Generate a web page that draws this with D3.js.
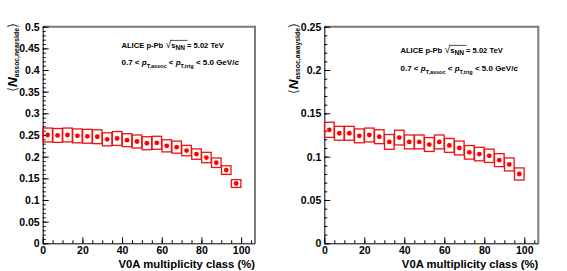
<!DOCTYPE html>
<html>
<head>
<meta charset="utf-8">
<script src="https://cdn.jsdelivr.net/npm/d3@7"></script>
<style>
	body { margin: 0; background: #fff; }
	svg { display: block; font-family: 'Liberation Sans', Arial, sans-serif; }
</style>
</head>
<body>
<div id="chart-area"></div>
<script>
// V0A multiplicity class bin centres (%)
let binCenters = [2.5, 7.5, 12.5, 17.5, 22.5, 27.5, 32.5, 37.5, 42.5, 47.5, 52.5, 57.5, 62.5, 67.5, 72.5, 77.5, 82.5, 87.5, 92.5, 97.5]
let binHalfWidth = 2.4

let nearValues = [0.250, 0.249, 0.250, 0.248, 0.247, 0.246, 0.240, 0.242, 0.238, 0.235, 0.231, 0.232, 0.225, 0.222, 0.214, 0.206, 0.198, 0.186, 0.169, 0.138]
let nearSyst = [0.016, 0.016, 0.016, 0.016, 0.016, 0.016, 0.015, 0.016, 0.015, 0.015, 0.015, 0.015, 0.014, 0.014, 0.012, 0.012, 0.012, 0.011, 0.010, 0.009]

let awayValues = [0.131, 0.127, 0.127, 0.124, 0.125, 0.123, 0.117, 0.122, 0.117, 0.117, 0.114, 0.117, 0.113, 0.110, 0.105, 0.103, 0.101, 0.096, 0.091, 0.080]
let awaySyst = [0.0087, 0.008, 0.008, 0.008, 0.008, 0.008, 0.0085, 0.0085, 0.008, 0.008, 0.008, 0.008, 0.008, 0.008, 0.0078, 0.0078, 0.0077, 0.0075, 0.0075, 0.007]

let xTicks = [0, 20, 40, 60, 80, 100]
let nearYTicks = [0, 0.05, 0.1, 0.15, 0.2, 0.25, 0.3, 0.35, 0.4, 0.45, 0.5]
let awayYTicks = [0, 0.05, 0.1, 0.15, 0.2, 0.25]

let xTitle = 'V0A multiplicity class (%)'

let svg = d3.select('#chart-area').append('svg')
	.attr('width', 567)
	.attr('height', 271)

let panels = [
	{ left: 42.7, right: 255, top: 26.7, bottom: 243.3, yMax: 0.5, yTicks: nearYTicks, values: nearValues, syst: nearSyst, sub: 'assoc,nearside', titleX: 16.5, noteX: 121.5, noteY1: 48, noteY2: 65 },
	{ left: 324.3, right: 538.3, top: 26.7, bottom: 243.3, yMax: 0.25, yTicks: awayYTicks, values: awayValues, syst: awaySyst, sub: 'assoc,awayside', titleX: 297.5, noteX: 400.5, noteY1: 53, noteY2: 70.5 }
]

const formatTick = (d) => { return d === 0 ? '0' : String(+d.toFixed(2)) }

panels.forEach((p) => {
	let g = svg.append('g')

	let x = d3.scaleLinear()
		.domain([0, 107])
		.range([p.left, p.right])

	let y = d3.scaleLinear()
		.domain([0, p.yMax])
		.range([p.bottom, p.top])

	// frame: top and right edges grey
	g.append('line')
		.attr('x1', p.left).attr('x2', p.right)
		.attr('y1', p.top).attr('y2', p.top)
		.attr('stroke', '#7a7a7a').attr('stroke-width', 2)
	g.append('line')
		.attr('x1', p.right).attr('x2', p.right)
		.attr('y1', p.top - 1).attr('y2', p.bottom)
		.attr('stroke', '#7a7a7a').attr('stroke-width', 2)

	// minor ticks
	let yMinor = d3.range(0, p.yMax + 0.0001, 0.01)
	g.append('g')
		.attr('transform', 'translate(' + p.left + ',0)')
		.call(d3.axisLeft(y).tickValues(yMinor).tickSize(-3).tickFormat(''))
		.call(a => a.select('.domain').remove())
	let xMinor = d3.range(0, 106, 5)
	g.append('g')
		.attr('transform', 'translate(0,' + p.bottom + ')')
		.call(d3.axisBottom(x).tickValues(xMinor).tickSize(-3).tickFormat(''))
		.call(a => a.select('.domain').remove())

	// major axes
	let yAxisGroup = g.append('g')
		.attr('transform', 'translate(' + p.left + ',0)')
		.call(d3.axisLeft(y).tickValues(p.yTicks).tickSizeInner(-6).tickSizeOuter(0).tickPadding(3).tickFormat(formatTick))
	let xAxisGroup = g.append('g')
		.attr('transform', 'translate(0,' + p.bottom + ')')
		.call(d3.axisBottom(x).tickValues(xTicks).tickSizeInner(-6).tickSizeOuter(0).tickPadding(3).tickFormat(formatTick))

	;[yAxisGroup, xAxisGroup].forEach(a => {
		a.selectAll('text')
			.attr('font-family', "'Liberation Sans', Arial, sans-serif")
			.attr('font-size', 10.5)
			.attr('font-weight', 'bold')
			.attr('fill', '#000')
	})
	g.selectAll('.tick line').attr('stroke', '#000')
	g.selectAll('.domain').attr('stroke', '#000')

	// systematic boxes
	g.selectAll('rect.syst')
		.data(binCenters)
		.enter()
		.append('rect')
			.attr('class', 'syst')
			.attr('x', (d) => { return x(d - binHalfWidth) })
			.attr('width', (d) => { return x(d + binHalfWidth) - x(d - binHalfWidth) })
			.attr('y', (d, i) => { return y(p.values[i] + p.syst[i]) })
			.attr('height', (d, i) => { return y(p.values[i] - p.syst[i]) - y(p.values[i] + p.syst[i]) })
			.attr('fill', 'none')
			.attr('stroke', '#ee1111')
			.attr('stroke-width', 1.3)

	// points
	g.selectAll('circle')
		.data(binCenters)
		.enter()
		.append('circle')
			.attr('cx', (d) => { return x(d) })
			.attr('cy', (d, i) => { return y(p.values[i]) })
			.attr('r', 2.4)
			.attr('fill', '#ff0000')

	// x title
	g.append('text')
		.attr('x', p.right)
		.attr('y', 267.5)
		.attr('text-anchor', 'end')
		.attr('font-size', 11.3)
		.attr('font-weight', 'bold')
		.text(xTitle)

	// y title
	let yt = g.append('text')
		.attr('transform', 'translate(' + p.titleX + ',' + 23 + ') rotate(-90)')
		.attr('text-anchor', 'end')
		.attr('font-weight', 'bold')
	yt.append('tspan').attr('font-family', "'DejaVu Sans', sans-serif").attr('font-weight', 'normal').attr('font-size', 13).attr('fill', '#444').text('\u27E8')
	yt.append('tspan').attr('font-size', 13.5).attr('font-style', 'italic').text('N')
	yt.append('tspan').attr('font-size', 6.8).attr('dy', 2).text(p.sub)
	yt.append('tspan').attr('font-family', "'DejaVu Sans', sans-serif").attr('font-weight', 'normal').attr('font-size', 13).attr('fill', '#444').attr('dy', -2).text('\u27E9')

	// annotation
	let n1 = g.append('text')
		.attr('x', p.noteX)
		.attr('y', p.noteY1)
		.attr('font-size', 7.6)
		.attr('font-weight', 'bold')
	n1.append('tspan').text('ALICE p-Pb ')
	n1.append('tspan').attr('font-size', 10.5).attr('font-weight', 'normal').text('\u221A')
	n1.append('tspan').text('s')
	n1.append('tspan').attr('font-size', 6.6).attr('dy', 1.8).text('NN')
	n1.append('tspan').attr('dy', -1.8).text(' = 5.02 TeV')
	let node = n1.node()
	let sx0 = node.getStartPositionOfChar(12).x
	let sx1 = node.getEndPositionOfChar(15).x
	g.append('line')
		.attr('x1', sx0 - 0.5).attr('x2', sx1 + 0.5)
		.attr('y1', p.noteY1 - 7.6).attr('y2', p.noteY1 - 7.6)
		.attr('stroke', '#000').attr('stroke-width', 0.7)

	let n2 = g.append('text')
		.attr('x', p.noteX)
		.attr('y', p.noteY2)
		.attr('font-size', 8)
		.attr('font-weight', 'bold')
	n2.append('tspan').text('0.7 <  ')
	n2.append('tspan').attr('font-style', 'italic').text('p')
	n2.append('tspan').attr('font-size', 5.5).attr('dy', 3.2).text('T,assoc')
	n2.append('tspan').attr('dy', -3.2).text(' <  ')
	n2.append('tspan').attr('font-style', 'italic').text('p')
	n2.append('tspan').attr('font-size', 5.5).attr('dy', 3.2).text('T,trig')
	n2.append('tspan').attr('dy', -3.2).text(' < 5.0 GeV/')
	n2.append('tspan').attr('font-style', 'italic').text('c')
})
</script>
</body>
</html>
